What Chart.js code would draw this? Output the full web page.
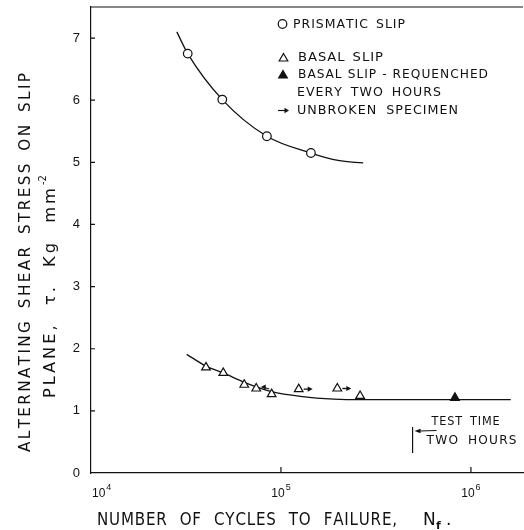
<!DOCTYPE html>
<html><head><meta charset="utf-8">
<script src="https://cdn.jsdelivr.net/npm/chart.js@4.4.1/dist/chart.umd.min.js"></script>
<style>html,body{margin:0;padding:0;background:#fff;} #wrap{width:524px;height:530px;position:relative}</style>
</head><body><div id="wrap"><canvas id="c" width="524" height="530"></canvas></div>
<script>
// ---- data ----
const xTickValues = [1e4, 1e5, 1e6];
const xTickExponents = ['4', '5', '6'];
const yTickValues = [0, 1, 2, 3, 4, 5, 6, 7];

const prismaticN = [32.3e3, 49.1e3, 84.3e3, 143.8e3];
const prismaticTau = [6.75, 6.01, 5.42, 5.15];
const prismaticCurveN = [28.3e3, 32.3e3, 49.1e3, 84.3e3, 143.8e3, 200e3, 271e3];
const prismaticCurveTau = [7.10, 6.75, 6.01, 5.42, 5.15, 5.03, 4.99];

const basalN = [40.3e3, 49.7e3, 64.1e3, 74.1e3, 89.3e3, 124e3, 198e3, 261e3];
const basalTau = [1.70, 1.61, 1.42, 1.36, 1.27, 1.35, 1.36, 1.24];
const basalUnbroken = ['', '', '', 'left', '', 'right', 'right', ''];
const requenchedN = [824e3];
const requenchedTau = [1.21];
const basalCurveN = [31.9e3, 40.3e3, 49.7e3, 64.1e3, 89.3e3, 130e3, 190e3, 260e3, 1.62e6];
const basalCurveTau = [1.91, 1.72, 1.61, 1.46, 1.31, 1.23, 1.19, 1.18, 1.18];

const testTimeN = 4.93e5;

const legendLabels = ['PRISMATIC SLIP', 'BASAL SLIP', 'BASAL SLIP - REQUENCHED', 'EVERY TWO HOURS', 'UNBROKEN SPECIMEN'];
const xTitle = 'NUMBER OF CYCLES TO FAILURE,';
const yTitle1 = 'ALTERNATING SHEAR STRESS ON SLIP';
const yTitle2 = 'PLANE, \u03C4. Kg mm';
const testTimeLabels = ['TEST TIME', 'TWO HOURS'];

const INK = '#111';
const F = '"DejaVu Sans", sans-serif';
const FN = '"Liberation Sans", Arial, sans-serif';

const pts = (xs, ys) => xs.map((x, i) => ({x, y: ys[i]}));

// left-aligned text at x, letter spacing ls, word gap gap; glyphs scaled horizontally to reach width
function fitText(ctx, text, x, y, width, ls, gap, maxSx) {
  const words = text.split(' ');
  let L = 0, inGaps = 0;
  words.forEach(w => { [...w].forEach(c => { L += ctx.measureText(c).width; }); inGaps += Math.max(0, [...w].length - 1); });
  let sx = (width - ls * inGaps - gap * (words.length - 1)) / L;
  sx = Math.max(0.72, Math.min(maxSx || 1.25, sx));
  const g = words.length > 1 ? (width - ls * inGaps - sx * L) / (words.length - 1) : 0;
  let cx = x;
  words.forEach((w) => {
    [...w].forEach((c, ci) => {
      ctx.save(); ctx.translate(cx, y); ctx.scale(sx, 1); ctx.fillText(c, 0, 0); ctx.restore();
      cx += ctx.measureText(c).width * sx + (ci < [...w].length - 1 ? ls : 0);
    });
    cx += g;
  });
}
function arrowHead(ctx, x, y, dir, len, half) {
  ctx.beginPath();
  ctx.moveTo(x, y);
  ctx.lineTo(x - dir * len, y - half);
  ctx.lineTo(x - dir * len, y + half);
  ctx.closePath();
  ctx.fill();
}
function triangle(ctx, x, y, r, filled) {
  ctx.beginPath();
  for (let k = 0; k < 3; k++) {
    const a = k * 2 * Math.PI / 3;
    const px = x + Math.sin(a) * r, py = y - Math.cos(a) * r;
    k ? ctx.lineTo(px, py) : ctx.moveTo(px, py);
  }
  ctx.closePath();
  ctx.fillStyle = filled ? INK : '#fff'; ctx.fill();
  ctx.stroke();
  ctx.fillStyle = INK;
}

const decor = {
  id: 'decor',
  afterDraw(chart) {
    const ctx = chart.ctx, a = chart.chartArea;
    const xs = chart.scales.x, ys = chart.scales.y;
    ctx.save();
    ctx.strokeStyle = INK; ctx.fillStyle = INK; ctx.lineWidth = 1.2;
    // top frame line
    ctx.beginPath(); ctx.moveTo(a.left, a.top); ctx.lineTo(a.right, a.top); ctx.stroke();
    // inward ticks
    ctx.beginPath();
    yTickValues.forEach(v => { if (v === 0) return; const p = ys.getPixelForValue(v); ctx.moveTo(a.left, p); ctx.lineTo(a.left + 4, p); });
    xTickValues.forEach(v => { const p = xs.getPixelForValue(v); if (p <= a.left + 1) return; ctx.moveTo(p, a.bottom); ctx.lineTo(p, a.bottom - 6); });
    ctx.stroke();
    // x tick labels 10^n
    ctx.textBaseline = 'alphabetic'; ctx.textAlign = 'left';
    xTickValues.forEach((v, i) => {
      const p = xs.getPixelForValue(v);
      ctx.font = '12px ' + FN;
      const w = ctx.measureText('10').width;
      let left = p - w / 2 - 3;
      if (left < a.left) left = a.left + 1;
      ctx.fillText('10', left, a.bottom + 24);
      ctx.font = '9px ' + FN;
      ctx.fillText(xTickExponents[i], left + w + 1, a.bottom + 17);
    });
    // x title
    ctx.font = '17px ' + F;
    fitText(ctx, xTitle, 97, 525, 300, 0.8, 13);
    ctx.fillText('N', 423, 525);
    ctx.font = 'bold 11px ' + F;
    ctx.fillText('f', 436, 529);
    ctx.font = '17px ' + F;
    ctx.fillText('.', 446, 525);
    // y title
    ctx.save();
    ctx.translate(26, 452); ctx.rotate(-Math.PI / 2);
    ctx.textBaseline = 'middle';
    ctx.font = '16px ' + F;
    fitText(ctx, yTitle1, 0, 0, 379, 2.4, 13);
    ctx.restore();
    ctx.save();
    ctx.translate(51, 398); ctx.rotate(-Math.PI / 2);
    ctx.textBaseline = 'middle';
    ctx.font = '16px ' + F;
    fitText(ctx, yTitle2, 0, 0, 210, 3, 17, 1.02);
    ctx.font = '10px ' + F;
    ctx.fillText('-2', 213, -8);
    ctx.restore();
    // legend
    ctx.lineWidth = 1.2;
    ctx.font = '13px ' + F; ctx.textBaseline = 'middle';
    ctx.beginPath(); ctx.arc(282.5, 24, 4.3, 0, Math.PI * 2); ctx.fillStyle = '#fff'; ctx.fill(); ctx.stroke();
    ctx.fillStyle = INK;
    fitText(ctx, legendLabels[0], 293, 24.5, 112, 1.0, 8);
    triangle(ctx, 283.5, 58.5, 5, false);
    fitText(ctx, legendLabels[1], 298, 57.5, 85, 1.0, 8);
    triangle(ctx, 283, 75.5, 5, true);
    fitText(ctx, legendLabels[2], 298, 74.5, 190, 1.0, 6);
    fitText(ctx, legendLabels[3], 297, 92.5, 144, 1.0, 9);
    ctx.beginPath(); ctx.moveTo(278, 110.5); ctx.lineTo(286, 110.5); ctx.stroke();
    arrowHead(ctx, 289, 110.5, 1, 4.5, 2.8);
    fitText(ctx, legendLabels[4], 297, 110.5, 161, 1.0, 10);
    // unbroken arrows
    const meta = chart.getDatasetMeta(1);
    basalUnbroken.forEach((d, i) => {
      if (!d) return;
      const el = meta.data[i];
      ctx.lineWidth = 1.3;
      if (d === 'right') {
        ctx.beginPath(); ctx.moveTo(el.x + 5, el.y); ctx.lineTo(el.x + 10, el.y); ctx.stroke();
        arrowHead(ctx, el.x + 14, el.y, 1, 5, 2.6);
      } else {
        ctx.beginPath(); ctx.moveTo(el.x + 8, el.y - 1); ctx.lineTo(el.x + 13, el.y + 0.5); ctx.stroke();
        arrowHead(ctx, el.x + 4.5, el.y - 1.5, -1, 5, 2.6);
      }
    });
    // test time annotation
    const tx = xs.getPixelForValue(testTimeN);
    ctx.lineWidth = 1.2;
    ctx.beginPath(); ctx.moveTo(tx, a.bottom - 46); ctx.lineTo(tx, a.bottom - 20); ctx.stroke();
    ctx.beginPath(); ctx.moveTo(tx + 7, a.bottom - 42); ctx.lineTo(tx + 24, a.bottom - 42.5); ctx.stroke();
    arrowHead(ctx, tx + 2, a.bottom - 42, -1, 6, 2.3);
    ctx.font = '12px ' + F; ctx.textBaseline = 'middle';
    fitText(ctx, testTimeLabels[0], tx + 19, a.bottom - 51, 68, 0.8, 8);
    fitText(ctx, testTimeLabels[1], tx + 14, a.bottom - 32, 90, 1.2, 10);
    ctx.restore();
  }
};

new Chart(document.getElementById('c'), {
  type: 'scatter',
  data: {
    datasets: [
      { data: pts(prismaticN, prismaticTau), pointStyle: 'circle', pointRadius: 4.3, pointBackgroundColor: '#fff', pointBorderColor: INK, pointBorderWidth: 1.2, showLine: false },
      { data: pts(basalN, basalTau), pointStyle: 'triangle', pointRadius: 5, pointBackgroundColor: '#fff', pointBorderColor: INK, pointBorderWidth: 1.2, showLine: false },
      { data: pts(requenchedN, requenchedTau), pointStyle: 'triangle', pointRadius: 5, pointBackgroundColor: INK, pointBorderColor: INK, pointBorderWidth: 1.2, showLine: false },
      { data: pts(prismaticCurveN, prismaticCurveTau), showLine: true, pointRadius: 0, borderColor: INK, borderWidth: 1.3, cubicInterpolationMode: 'monotone' },
      { data: pts(basalCurveN, basalCurveTau), showLine: true, pointRadius: 0, borderColor: INK, borderWidth: 1.3, cubicInterpolationMode: 'monotone' }
    ]
  },
  options: {
    responsive: false, animation: false, devicePixelRatio: 1,
    layout: { autoPadding: false, padding: { top: 7, right: 1, left: 0, bottom: 0 } },
    plugins: { legend: { display: false }, tooltip: { enabled: false } },
    scales: {
      x: {
        type: 'logarithmic', min: 1e4, max: 1.88e6,
        afterBuildTicks: s => { s.ticks = xTickValues.map(v => ({ value: v })); },
        ticks: { display: false },
        grid: { display: false, drawTicks: false },
        border: { display: true, color: INK, width: 1.2 },
        afterFit: s => { s.height = 57; s.paddingLeft = 0; s.paddingRight = 0; }
      },
      y: {
        type: 'linear', min: 0, max: 7.5,
        afterBuildTicks: s => { s.ticks = yTickValues.map(v => ({ value: v })); },
        ticks: { font: { family: FN, size: 13 }, color: INK, padding: 11 },
        grid: { display: false, drawTicks: false },
        border: { display: true, color: INK, width: 1.2 },
        afterFit: s => { s.width = 91; s.paddingTop = 0; s.paddingBottom = 0; }
      }
    }
  },
  plugins: [decor]
});
</script>
</body></html>
